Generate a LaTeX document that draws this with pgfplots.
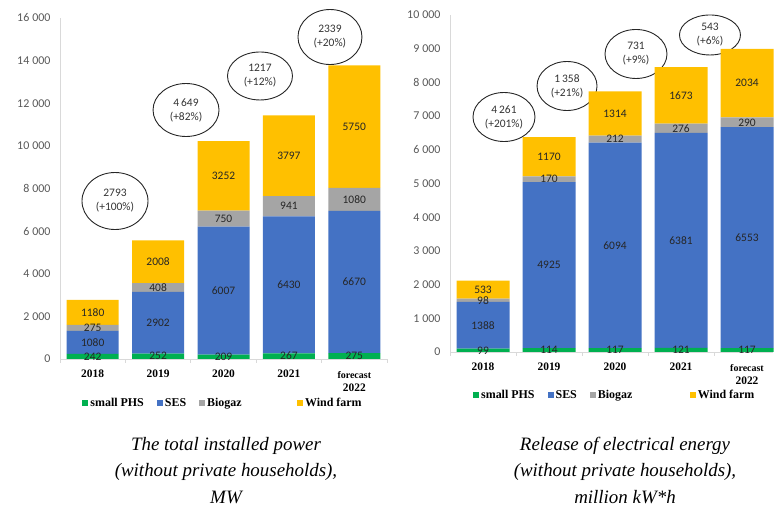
\documentclass[border=0pt]{standalone}
\usepackage{pgfplots}
\pgfplotsset{compat=1.18}
\usepackage{pgfplotstable}
\usepackage{fontspec}
\setmainfont{Carlito}
\newfontfamily\tnr{Liberation Serif}
\usetikzlibrary{shapes.geometric}

\definecolor{phs}{HTML}{00B050}
\definecolor{ses}{HTML}{4472C4}
\definecolor{bio}{HTML}{A5A5A5}
\definecolor{wind}{HTML}{FFC000}
\definecolor{axgray}{HTML}{D9D9D9}
\definecolor{ticktext}{HTML}{595959}

% installed power, MW
\pgfplotstableread{
x phs ses bio wind
0 242 1080 275 1180
1 252 2902 408 2008
2 209 6007 750 3252
3 267 6430 941 3797
4 275 6670 1080 5750
}\power

% energy, million kWh
\pgfplotstableread{
x phs ses bio wind
0 99 1388 98 533
1 114 4925 170 1170
2 117 6094 212 1314
3 121 6381 276 1673
4 117 6553 290 2034
}\energy

\tikzset{
  ann/.style={draw=black!85, line width=0.9bp, ellipse, inner sep=0pt,
    align=center, text=black!80, font=\fontsize{11.5}{14}\selectfont},
}

\pgfplotsset{
  lab/.style={
    nodes near coords={\pgfmathprintnumber{\rawy}},
    visualization depends on={\thisrow{#1}\as\rawy},
    nodes near coords style={anchor=center, inner sep=0pt,
      font=\fontsize{11.5}{14}\selectfont, text=black!85},
  },
  bars/.style={
    ybar stacked,
    scale only axis,
    anchor=south west,
    xmin=-0.5, ymin=0,
    enlargelimits=false,
    clip=false,
    axis x line=bottom, axis y line=left,
    axis line style={draw=axgray, line width=0.8bp, -},
    xtick={0,...,4},
    xticklabels={2018,2019,2020,2021,{\fontsize{10}{13.5}\selectfont\rule{0pt}{9bp}forecast\\2022}},
    minor xtick={-0.5,0.5,...,4.5},
    major tick length=0pt, minor tick length=4bp,
    tick align=outside,
    minor tick style={draw=axgray, line width=0.8bp},
    xticklabel style={font=\tnr\bfseries\fontsize{11.5}{13.5}\selectfont,
      align=center, anchor=north, yshift=-7bp},
    yticklabel style={font=\fontsize{12}{14}\selectfont, text=ticktext,
      xshift=-6bp, /pgf/number format/1000 sep={\hspace{0.25em}}},
    scaled y ticks=false,
    /pgf/number format/1000 sep={},
    /pgf/number format/assume math mode=true,
    legend image code/.code={\fill[#1] (0bp,-3bp) rectangle (6bp,3bp);},
    legend style={draw=none, fill=none, legend columns=-1, anchor=west,
      inner sep=0pt, font=\tnr\bfseries\fontsize{12}{14}\selectfont,
      /tikz/every even column/.append style={column sep=11bp}},
  },
}

\begin{document}
\begin{tikzpicture}
\useasboundingbox (0,0) rectangle (774bp,506bp);

\begin{axis}[bars,
  at={(60bp,147bp)}, width=327bp, height=341bp,
  xmax=4.5, ymax=16000, bar width=52bp,
  ytick={0,2000,...,16000},
  legend style={at={(rel axis cs:0.068,-0.129)}},
]
\addplot[fill=phs, draw=none, lab=phs] table[x=x, y=phs] {\power};
\addplot[fill=ses, draw=none, lab=ses] table[x=x, y=ses] {\power};
\addplot[fill=bio, draw=none, lab=bio] table[x=x, y=bio] {\power};
\addplot[fill=wind, draw=none, lab=wind] table[x=x, y=wind] {\power};
\legend{small PHS, SES, \makebox[77bp][l]{Biogaz}, Wind farm}
\node[ann, minimum width=66bp, minimum height=57bp] at (axis cs:0.341,7413) {2793\\(+100\%)};
\node[ann, minimum width=66bp, minimum height=53bp] at (axis cs:1.427,11683) {4\,649\\(+82\%)};
\node[ann, minimum width=65bp, minimum height=48bp] at (axis cs:2.558,13279) {1217\\(+12\%)};
\node[ann, minimum width=64bp, minimum height=55bp] at (axis cs:3.628,15108) {2339\\(+20\%)};
\end{axis}

\begin{axis}[bars,
  at={(450bp,154bp)}, width=323.4bp, height=337bp,
  xmax=4.4, ymax=10000, bar width=53bp,
  ytick={0,1000,...,10000},
  legend style={at={(rel axis cs:0.071,-0.128)}},
]
\addplot[fill=phs, draw=none, lab=phs] table[x=x, y=phs] {\energy};
\addplot[fill=ses, draw=none, lab=ses] table[x=x, y=ses] {\energy};
\addplot[fill=bio, draw=none, lab=bio] table[x=x, y=bio] {\energy};
\addplot[fill=wind, draw=none, lab=wind] table[x=x, y=wind] {\energy};
\legend{small PHS, SES, \makebox[79bp][l]{Biogaz}, Wind farm}
\node[ann, minimum width=62bp, minimum height=49bp] at (axis cs:0.318,6973) {4\,261\\(+201\%)};
\node[ann, minimum width=60bp, minimum height=49bp] at (axis cs:1.273,7893) {1\,358\\(+21\%)};
\node[ann, minimum width=62bp, minimum height=49bp] at (axis cs:2.318,8843) {731\\(+9\%)};
\node[ann, minimum width=61bp, minimum height=40bp] at (axis cs:3.439,9407) {543\\(+6\%)};
\end{axis}

\node[anchor=north, inner sep=0pt, align=center,
  font=\tnr\itshape\fontsize{19}{26.5}\selectfont] at (226bp,69bp)
  {The total installed power\\(without private households),\\MW};
\node[anchor=north, inner sep=0pt, align=center,
  font=\tnr\itshape\fontsize{19}{26.5}\selectfont] at (625bp,69bp)
  {Release of electrical energy\\(without private households),\\million kW*h};
\end{tikzpicture}
\end{document}
